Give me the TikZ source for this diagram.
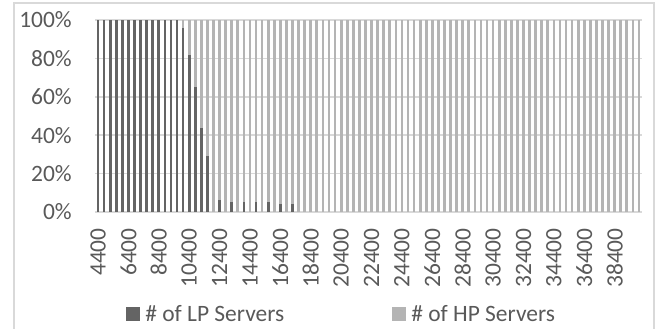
\documentclass[tikz,border=0pt]{standalone}
\usepackage{fontspec}
\setmainfont{Carlito}
\usetikzlibrary{positioning}
\definecolor{lpgray}{HTML}{646464}
\definecolor{hpgray}{HTML}{B4B4B4}
\definecolor{gridgray}{HTML}{D9D9D9}
\definecolor{txtgray}{HTML}{595959}

\begin{document}
\begin{tikzpicture}[x=0.75pt,y=-0.75pt,
    every node/.style={font=\fontsize{17.6}{19}\selectfont, text=txtgray},
    lpbar/.style={fill=lpgray},
    hpbar/.style={fill=hpgray},
    gridline/.style={draw=gridgray, line width=1.1pt},
    keybox/.style={minimum size=10.5pt, inner sep=0pt}]
    \clip (0,0) rectangle (669,329);
    \draw[draw=gridgray, line width=1pt] (14,3) rectangle (654,345);

    % grid and y axis labels
    \foreach \k in {0,...,5} {
        \pgfmathsetmacro\gy{212-\k*38.4}
        \pgfmathtruncatemacro\pc{\k*20}
        \draw[gridline] (95,\gy) -- (642,\gy);
        \node[anchor=east, inner sep=0pt] (y\k) at (72,\gy) {\pc\%};
    }

    % HP share: every bar full height
    \foreach \i in {0,...,89} {
        \pgfmathsetmacro\bx{95+(\i+0.5)*6.078}
        \fill[hpbar] (\bx-1.35,212) rectangle (\bx+1.35,20);
    }

    % LP share
    \foreach \i/\v in {0/100,1/100,2/100,3/100,4/100,5/100,6/100,7/100,
                       8/100,9/100,10/100,11/100,12/100,13/100,
                       14/96,15/82,16/65,17/44,18/29,
                       20/6,22/5,24/5,26/5,28/5,30/4,32/4} {
        \pgfmathsetmacro\bx{95+(\i+0.5)*6.078}
        \fill[lpbar] (\bx-1.35,212) rectangle (\bx+1.35,212-\v*1.92);
    }

    % category labels, every fifth one
    \begin{scope}
        \clip (90,215) rectangle (650,285);
        \foreach \j in {0,...,17} {
            \pgfmathsetmacro\lx{95+(\j*5+0.5)*6.078}
            \node[rotate=90, anchor=east, inner sep=0pt] (x\j) at (\lx,228)
                {\the\numexpr 4400+\j*2000\relax};
        }
    \end{scope}

    % legend
    \node[keybox, fill=lpgray] (lpkey) at (133,313.5) {};
    \node[right=3.6pt of lpkey, inner sep=0pt] (lptext) {\# of LP Servers};
    \node[keybox, fill=hpgray] (hpkey) at (399,313.5) {};
    \node[right=3.6pt of hpkey, inner sep=0pt] (hptext) {\# of HP Servers};
\end{tikzpicture}
\end{document}
